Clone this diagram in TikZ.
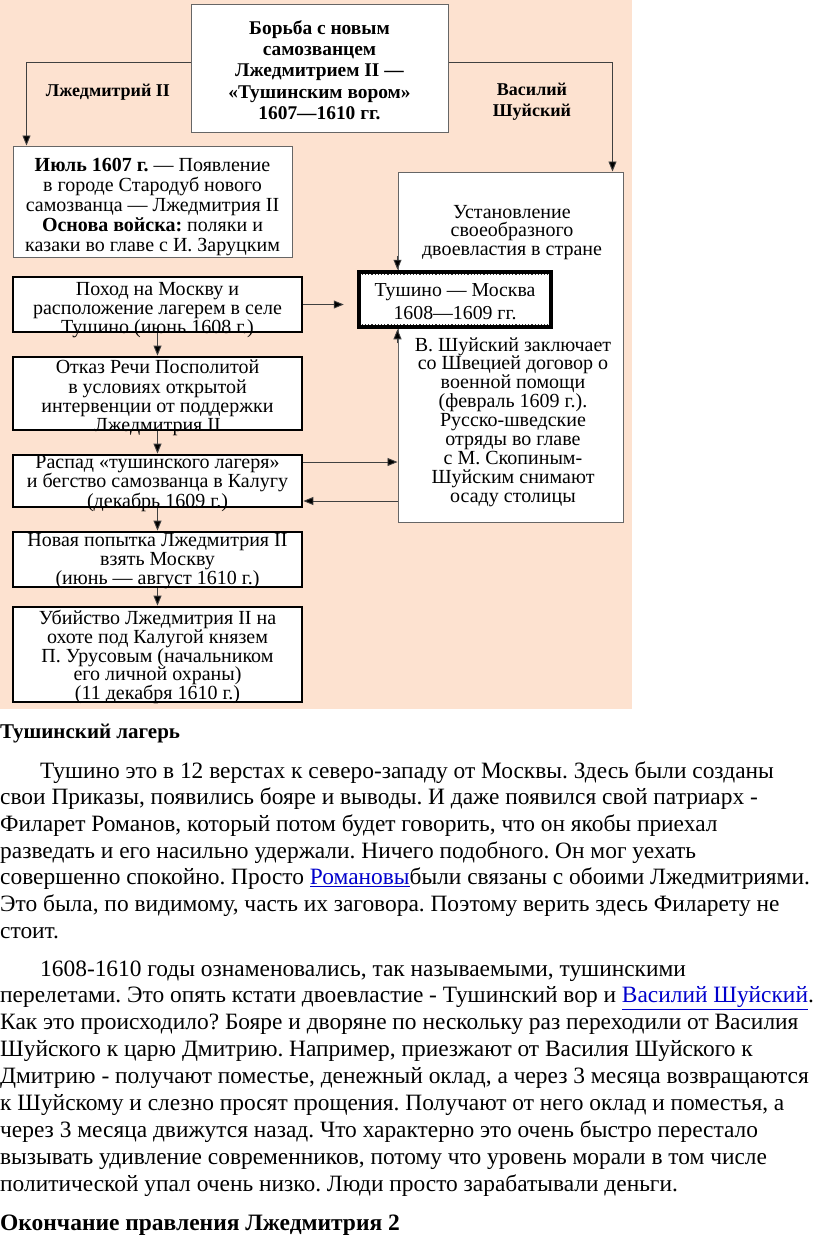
\documentclass[tikz,border=0pt]{standalone}
\usepackage{fontspec}
\setmainfont{Liberation Serif}
\usetikzlibrary{arrows.meta,calc}
\definecolor{peach}{RGB}{253,226,208}
\definecolor{linkblue}{RGB}{0,0,204}
\frenchspacing
\begin{document}
\begin{tikzpicture}[x=1pt,y=-1pt,
  thinbox/.style={draw=black!60, line width=1pt, fill=white, inner sep=0pt},
  thickbox/.style={draw=black, line width=2.8pt, fill=white, inner sep=0pt},
  boxtext/.style={font=\fontsize{20}{19.2}\selectfont, align=center, inner sep=0pt},
  titletext/.style={font=\bfseries\fontsize{19.4}{21.4}\selectfont, align=center, inner sep=0pt},
  labeltext/.style={font=\bfseries\fontsize{18}{21}\selectfont, align=center, inner sep=0pt},
  arr/.style={draw=black!75, line width=0.9pt, -{Triangle[length=10pt,width=8pt,fill=black]}},
  body/.style={anchor=base west, inner sep=0pt, font=\fontsize{23.4}{27}\selectfont},
  head/.style={anchor=base west, inner sep=0pt, font=\bfseries\fontsize{21}{27}\selectfont},
  dotline/.style={black!80, line width=1pt, dash pattern=on 1.2pt off 2pt}
]
\useasboundingbox (0,0) rectangle (816,1247);
\fill[white] (0,0) rectangle (816,1247);
\fill[peach] (0,0) rectangle (632,709);

% title
\node[thinbox, minimum width=257pt, minimum height=127pt] (title) at (319.5,68.5) {};
\node[titletext] (titlet) at (319.5,70) {Борьба с новым\\самозванцем\\Лжедмитрием II —\\«Тушинским вором»\\1607—1610 гг.};

% left column
\node[thinbox, minimum width=279pt, minimum height=111pt] (b1) at (152.5,201.5) {};
\node[boxtext, font=\fontsize{20}{19.8}\selectfont] (b1t) at (152.5,207) {\textbf{Июль 1607 г.} — Появление\\в городе Стародуб нового\\самозванца — Лжедмитрия II\\\textbf{Основа войска:} поляки и\\казаки во главе с И. Заруцким};

\node[thickbox, minimum width=289pt, minimum height=55pt] (b2) at (157.5,304.5) {};
\node[boxtext] (b2t) at (157.5,310) {Поход на Москву и\\расположение лагерем в селе\\Тушино (июнь 1608 г.)};

\node[thickbox, minimum width=289pt, minimum height=73pt] (b3) at (157.5,393.5) {};
\node[boxtext] (b3t) at (157.5,398) {Отказ Речи Посполитой\\в условиях открытой\\интервенции от поддержки\\Лжедмитрия II};

\node[thickbox, minimum width=289pt, minimum height=52pt] (b4) at (157.5,481) {};
\node[boxtext] (b4t) at (157.5,483.5) {Распад «тушинского лагеря»\\и бегство самозванца в Калугу\\(декабрь 1609 г.)};

\node[thickbox, minimum width=289pt, minimum height=55pt] (b5) at (157.5,559.5) {};
\node[boxtext] (b5t) at (157.5,561) {Новая попытка Лжедмитрия II\\взять Москву\\(июнь — август 1610 г.)};

\node[thickbox, minimum width=289pt, minimum height=95pt] (b6) at (157.5,654.5) {};
\node[boxtext, font=\fontsize{20}{18.8}\selectfont] (b6t) at (157.5,657) {Убийство Лжедмитрия II на\\охоте под Калугой князем\\П. Урусовым (начальником\\его личной охраны)\\(11 декабря 1610 г.)};

% right column
\node[thinbox, minimum width=225pt, minimum height=350pt] (big) at (510.5,347) {};
\node[boxtext, font=\fontsize{20}{18.3}\selectfont] (ust) at (512,232.5) {Установление\\своеобразного\\двоевластия в стране};
\node[boxtext, font=\fontsize{20}{18.9}\selectfont] (shu) at (513,422) {В. Шуйский заключает\\со Швецией договор о\\военной помощи\\(февраль 1609 г.).\\Русско-шведские\\отряды во главе\\с М. Скопиным-\\Шуйским снимают\\осаду столицы};

\node[draw=black, line width=4.5pt, fill=white, minimum width=192pt, minimum height=55pt, inner sep=0pt] (tush) at (455,299.5) {};
\draw[dotline] ($(tush.north west)+(5,4.5)$) -- ($(tush.north east)+(-5,4.5)$);
\draw[dotline] ($(tush.south west)+(5,-4.5)$) -- ($(tush.south east)+(-5,-4.5)$);
\node[boxtext, font=\fontsize{19.8}{23}\selectfont] (tusht) at (455,302) {Тушино — Москва\\1608—1609 гг.};

% labels
\node[labeltext] (lzh) at (108,92) {Лжедмитрий II};
\node[labeltext] (vas) at (532,102) {Василий\\Шуйский};

% connectors
\draw[arr] ($(title.north west)!0.45!(title.south west)$) -| ($(b1.north west)+(14,0)$);
\draw[arr] ($(title.north east)!0.45!(title.south east)$) -| ($(big.north east)+(-11,0)$);
\draw[arr] (b2.south) -- (b3.north);
\draw[arr] (b3.south) -- (b4.north);
\draw[arr] (b4.south) -- (b5.north);
\draw[arr] (b5.south) -- (b6.north);
\draw[arr, shorten >=13pt] (b2.east) -- (b2.east -| tush.west);
\draw[arr] ($(b4.east)+(0,-19)$) coordinate (p1) -- (p1 -| big.west);
\draw[arr] ($(big.west)+(0,154)$) coordinate (p2) -- (p2 -| b4.east);
\draw[arr] ($(tush.north -| big.west)+(0,-14)$) -- (tush.north -| big.west);
\draw[arr] ($(tush.south -| big.west)+(0,14)$) -- (tush.south -| big.west);

% body text
\node[head] (h1) at (0,738) {Тушинский лагерь};
\node[body] (l1) at (40,778) {Тушино это в 12 верстах к северо-западу от Москвы. Здесь были созданы};
\node[body] (l2) at (0,804.7) {свои Приказы, появились бояре и выводы. И даже появился свой патриарх -};
\node[body] (l3) at (0,831.4) {Филарет Романов, который потом будет говорить, что он якобы приехал};
\node[body] (l4) at (0,858.1) {разведать и его насильно удержали. Ничего подобного. Он мог уехать};
\node[body] (l5) at (0,884.8) {совершенно спокойно. Просто \textcolor{linkblue}{\underline{Романовы}}были связаны с обоими Лжедмитриями.};
\node[body] (l6) at (0,911.5) {Это была, по видимому, часть их заговора. Поэтому верить здесь Филарету не};
\node[body] (l7) at (0,938.2) {стоит.};
\node[body] (m1) at (40,976) {1608-1610 годы ознаменовались, так называемыми, тушинскими};
\node[body] (m2) at (0,1002.9) {перелетами. Это опять кстати двоевластие - Тушинский вор и \textcolor{linkblue}{\underline{Василий Шуйский}}.};
\node[body] (m3) at (0,1029.8) {Как это происходило? Бояре и дворяне по нескольку раз переходили от Василия};
\node[body] (m4) at (0,1056.7) {Шуйского к царю Дмитрию. Например, приезжают от Василия Шуйского к};
\node[body] (m5) at (0,1083.6) {Дмитрию - получают поместье, денежный оклад, а через 3 месяца возвращаются};
\node[body] (m6) at (0,1110.5) {к Шуйскому и слезно просят прощения. Получают от него оклад и поместья, а};
\node[body] (m7) at (0,1137.4) {через 3 месяца движутся назад. Что характерно это очень быстро перестало};
\node[body] (m8) at (0,1164.3) {вызывать удивление современников, потому что уровень морали в том числе};
\node[body] (m9) at (0,1191.2) {политической упал очень низко. Люди просто зарабатывали деньги.};
\node[head, font=\bfseries\fontsize{23.5}{27}\selectfont] (h2) at (0,1230) {Окончание правления Лжедмитрия 2};
\end{tikzpicture}
\end{document}
